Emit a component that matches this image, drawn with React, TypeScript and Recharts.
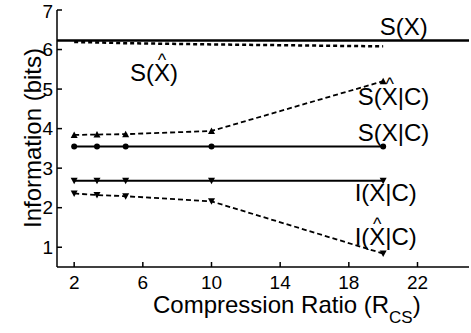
import React from 'react';
import { LineChart, Line, XAxis, YAxis, ReferenceLine, ReferenceDot } from 'recharts';

// compression ratios (R_CS)
const ratios = [2, 3.33, 5, 10, 20];
const sXhat = [6.19, 6.18, 6.16, 6.13, 6.08];
const sXhatC = [3.84, 3.85, 3.86, 3.94, 5.2];
const sXC = [3.55, 3.55, 3.55, 3.55, 3.55];
const iXC = [2.68, 2.68, 2.68, 2.68, 2.68];
const iXhatC = [2.36, 2.32, 2.29, 2.16, 0.84];
const sX = 6.23;

const xTicks = [2, 6, 10, 14, 18, 22];
const yTicks = [1, 2, 3, 4, 5, 6, 7];

// curve labels: text, hat over X?, position in data coords (baseline)
const curveLabels = [
  { text: 'S(X)', hat: false, x: 21.2, y: 6.36 },
  { text: 'S(X)', hat: true, x: 6.65, y: 5.2 },
  { text: 'S(X|C)', hat: true, x: 20.6, y: 4.6 },
  { text: 'S(X|C)', hat: false, x: 20.6, y: 3.68 },
  { text: 'I(X|C)', hat: false, x: 20.15, y: 2.17 },
  { text: 'I(X|C)', hat: true, x: 20.15, y: 1.06 },
];

const data = ratios.map((r, i) => ({
  r,
  sXhat: sXhat[i],
  sXhatC: sXhatC[i],
  sXC: sXC[i],
  iXC: iXC[i],
  iXhatC: iXhatC[i],
}));

const FONT = '"Liberation Sans", Arial, sans-serif';
const LABEL_SIZE = 24;
const HAT_SIZE = 18;
const EM: Record<string, number> = { S: 0.667, '(': 0.333, ')': 0.333, X: 0.667, '|': 0.26, C: 0.722, I: 0.278 };

const textWidth = (s: string) => s.split('').reduce((a, c) => a + (EM[c] ?? 0.55), 0) * LABEL_SIZE;

// one <text> per label; the hat is a raised caret tspan over the X
const CurveLabel = ({ cx, cy, text, hat }: any) => {
  const start = cx - textWidth(text) / 2;
  if (!hat) {
    return <text x={start} y={cy} fontSize={LABEL_SIZE} fontFamily={FONT} fill="#000">{text}</text>;
  }
  const xi = text.indexOf('X') + 1;
  const xw = EM.X * LABEL_SIZE;
  const cw = 0.469 * HAT_SIZE;
  const lift = 0.62 * LABEL_SIZE;
  return (
    <text x={start} y={cy} fontSize={LABEL_SIZE} fontFamily={FONT} fill="#000">
      {text.slice(0, xi)}
      <tspan fontSize={HAT_SIZE} dx={-(xw / 2 + cw / 2)} dy={-lift}>^</tspan>
      <tspan dx={xw / 2 - cw / 2} dy={lift}>{text.slice(xi)}</tspan>
    </text>
  );
};

const UpTri = ({ cx, cy }: any) => (
  <path d={`M${cx - 3.5},${cy + 3} L${cx + 3.5},${cy + 3} L${cx},${cy - 3.5} Z`} fill="#000" />
);
const DownTri = ({ cx, cy }: any) => (
  <path d={`M${cx - 3.5},${cy - 3} L${cx + 3.5},${cy - 3} L${cx},${cy + 3.5} Z`} fill="#000" />
);
const Circle = ({ cx, cy }: any) => <circle cx={cx} cy={cy} r={3} fill="#000" />;

const XTitle = ({ viewBox }: any) => (
  <text x={viewBox.x + 96} y={313} fontSize={24} fontFamily={FONT} fill="#000">
    Compression Ratio (R
    <tspan fontSize={17} dy={10}>CS</tspan>
    <tspan dy={-10}>)</tspan>
  </text>
);

const YTitle = ({ viewBox }: any) => {
  const x = viewBox.x + 41;
  const y = 138;
  return (
    <text x={x} y={y} fontSize={24} fontFamily={FONT} fill="#000" textAnchor="middle" transform={`rotate(-90, ${x}, ${y})`}>
      Information (bits)
    </text>
  );
};

const tickStyle = { fontSize: 19, fontFamily: FONT, fill: '#000' };
const axisStroke = { stroke: '#000', strokeWidth: 1.5 };

export default function App() {
  return (
    <div style={{ position: 'absolute', left: 0, top: 0, background: '#fff' }}>
      <LineChart width={471} height={333} data={data} margin={{ top: 10, right: 2, left: 0, bottom: 0 }}>
        <XAxis
          xAxisId="b"
          dataKey="r"
          type="number"
          domain={[1, 25]}
          ticks={xTicks}
          height={66}
          tickSize={-5}
          tickMargin={14}
          tick={tickStyle}
          axisLine={axisStroke}
          tickLine={axisStroke}
          label={<XTitle />}
        />
        <XAxis
          xAxisId="t"
          orientation="top"
          dataKey="r"
          type="number"
          domain={[1, 25]}
          ticks={xTicks}
          height={0}
          tickSize={-5}
          tick={false}
          axisLine={axisStroke}
          tickLine={axisStroke}
        />
        <YAxis
          yAxisId="l"
          type="number"
          domain={[0.5, 7]}
          ticks={yTicks}
          width={57}
          tickSize={-5}
          tickMargin={9}
          tick={tickStyle}
          axisLine={axisStroke}
          tickLine={axisStroke}
          label={<YTitle />}
        />
        <YAxis
          yAxisId="r"
          orientation="right"
          type="number"
          domain={[0.5, 7]}
          ticks={yTicks}
          width={0}
          tickSize={-5}
          tick={false}
          axisLine={axisStroke}
          tickLine={axisStroke}
        />
        <ReferenceLine xAxisId="b" yAxisId="l" y={sX} stroke="#000" strokeWidth={2.5} />
        <Line xAxisId="b" yAxisId="l" dataKey="sXhat" stroke="#000" strokeWidth={2.5} strokeDasharray="4 3" dot={false} isAnimationActive={false} />
        <Line xAxisId="b" yAxisId="l" dataKey="sXhatC" stroke="#000" strokeWidth={1.8} strokeDasharray="5 3" dot={<UpTri />} isAnimationActive={false} />
        <Line xAxisId="b" yAxisId="l" dataKey="sXC" stroke="#000" strokeWidth={2} dot={<Circle />} isAnimationActive={false} />
        <Line xAxisId="b" yAxisId="l" dataKey="iXC" stroke="#000" strokeWidth={2} dot={<DownTri />} isAnimationActive={false} />
        <Line xAxisId="b" yAxisId="l" dataKey="iXhatC" stroke="#000" strokeWidth={1.8} strokeDasharray="5 3" dot={<DownTri />} isAnimationActive={false} />
        {curveLabels.map((l, i) => (
          <ReferenceDot
            key={i}
            xAxisId="b"
            yAxisId="l"
            x={l.x}
            y={l.y}
            r={0}
            shape={(p: any) => <CurveLabel cx={p.cx} cy={p.cy} text={l.text} hat={l.hat} />}
          />
        ))}
      </LineChart>
    </div>
  );
}
